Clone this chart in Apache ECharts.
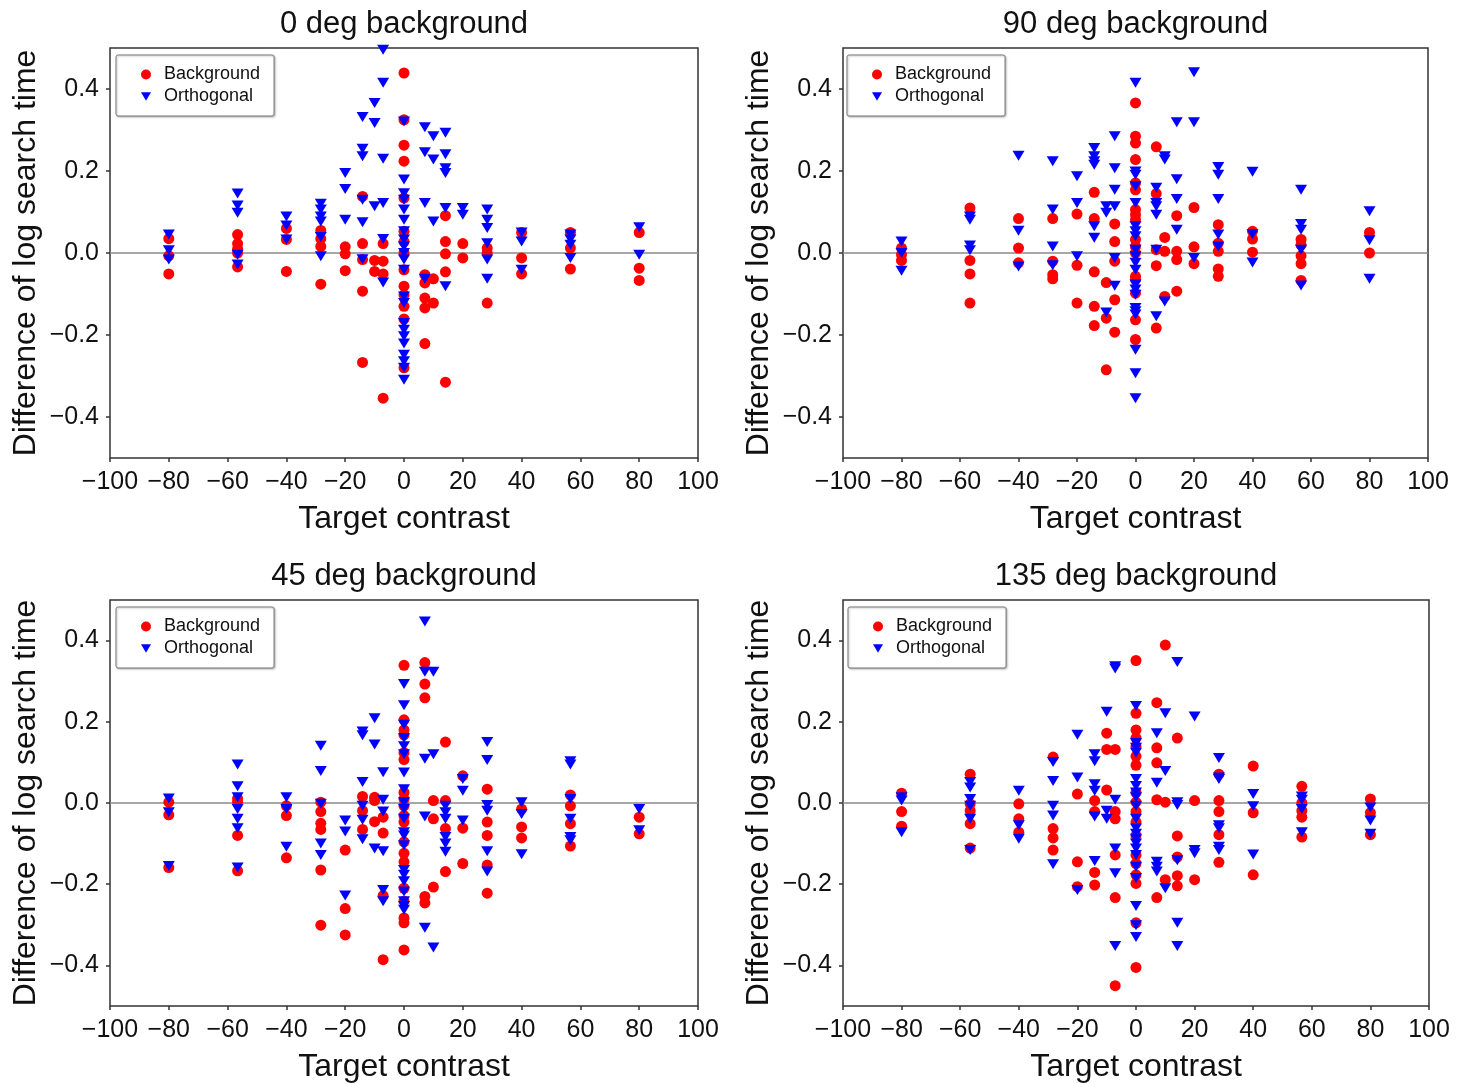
<!DOCTYPE html>
<html>
<head>
<meta charset="utf-8">
<script src="https://cdn.jsdelivr.net/npm/echarts@6/dist/echarts.min.js"></script>
<style>
html,body{margin:0;padding:0;background:#fff;}
#chart{width:1468px;height:1084px;}
</style>
</head>
<body>
<div id="chart"></div>
<script>
// Target contrast levels (x positions of the columns)
const contrasts = [-80, -56.6, -40, -28.3, -20, -14.1, -10, -7.1, 0, 7.1, 10, 14.1, 20, 28.3, 40, 56.6, 80];
const panelTitles = ['0 deg background', '90 deg background', '45 deg background', '135 deg background'];
const seriesNames = ['Background', 'Orthogonal'];
const yTickValues = [-0.4, -0.2, 0, 0.2, 0.4];

// Values per contrast column (same order as contrasts)
const bg0 = [
  [0.035, -0.007, -0.051],
  [0.045, 0.023, 0.01, 0.0, -0.034],
  [0.06, 0.033, -0.045],
  [0.055, 0.035, 0.016, -0.076],
  [0.015, -0.002, -0.043],
  [0.138, 0.023, -0.016, -0.093, -0.267],
  [-0.018, -0.045],
  [0.023, -0.02, -0.051, -0.354],
  [0.439, 0.325, 0.263, 0.224, 0.134, 0.053, 0.028, 0, -0.041, -0.081, -0.102, -0.13, -0.161, -0.28],
  [-0.053, -0.073, -0.11, -0.134, -0.221],
  [-0.063, -0.122],
  [0.091, 0.028, -0.002, -0.046, -0.315],
  [0.023, -0.012],
  [0.012, 0, -0.122],
  [0.05, -0.012, -0.051],
  [0.05, 0.012, -0.039],
  [0.05, -0.037, -0.067]
];
const or0 = [
  [0.045, 0.007, -0.016],
  [0.145, 0.116, 0.098, -0.004, -0.028],
  [0.089, 0.067, 0.033],
  [0.12, 0.106, 0.089, 0.077, 0.039, -0.008],
  [0.195, 0.156, 0.081],
  [0.332, 0.254, 0.236, 0.13, 0.075, -0.015],
  [0.366, 0.317, 0.114],
  [0.496, 0.415, 0.23, 0.122, 0.034, -0.072],
  [0.321, 0.179, 0.146, 0.13, 0.106, 0.081, 0.053, 0.033, 0.016, 0, -0.016, -0.041, -0.106, -0.122, -0.171, -0.187, -0.203, -0.221, -0.248, -0.264, -0.28, -0.309],
  [0.307, 0.246, 0.122, -0.063],
  [0.285, 0.228, 0.077],
  [0.293, 0.241, 0.207, 0.195, 0.11, -0.081],
  [0.11, 0.093],
  [0.106, 0.081, 0.061, 0.024, -0.016, -0.063],
  [0.05, 0.028, -0.041],
  [0.045, 0.033, 0.02, -0.012],
  [0.063, -0.004]
];
const bg90 = [
  [0.012, -0.004, -0.018],
  [0.11, -0.018, -0.051, -0.122],
  [0.084, 0.012, -0.024],
  [0.084, -0.02, -0.053, -0.063],
  [0.095, -0.03, -0.122],
  [0.148, 0.084, -0.046, -0.13, -0.177],
  [-0.072, -0.159, -0.285],
  [0.071, 0.028, -0.02, -0.114, -0.193],
  [0.366, 0.285, 0.268, 0.228, 0.171, 0.154, 0.106, 0.093, 0.081, 0.033, 0.016, 0, -0.057, -0.065, -0.098, -0.163, -0.211],
  [0.259, 0.145, 0.008, -0.031, -0.183],
  [0.038, 0.004, -0.106],
  [0.091, 0.004, -0.016, -0.093],
  [0.111, 0.015, -0.026],
  [0.069, 0.024, 0.004, -0.039, -0.057],
  [0.053, 0.034, 0.002],
  [0.033, 0.02, -0.007, -0.026, -0.067],
  [0.05, 0]
];
const or90 = [
  [0.028, 0, -0.043],
  [0.089, 0.081, 0.018, 0.007],
  [0.237, 0.054, -0.033],
  [0.224, 0.106, 0.016, -0.03],
  [0.187, 0.122, -0.008],
  [0.256, 0.236, 0.224, 0.215, 0.065, 0.037],
  [0.114, 0.098, -0.145],
  [0.285, 0.207, 0.154, 0.114, -0.012, -0.08],
  [0.415, 0.199, 0.191, 0.163, 0.122, 0.065, 0.053, 0.041, 0.008, -0.008, -0.024, -0.041, -0.077, -0.089, -0.102, -0.134, -0.142, -0.15, -0.236, -0.293, -0.354],
  [0.159, 0.122, 0.114, 0.093, 0.008, -0.154],
  [0.236, 0.228, -0.118],
  [0.319, 0.18, 0.132, 0.057],
  [0.441, 0.319, -0.012],
  [0.21, 0.191, 0.132, 0.045, 0.016],
  [0.198, 0.046, -0.023],
  [0.154, 0.071, 0.057, 0.008, -0.079],
  [0.102, 0.031, -0.063]
];
const bg45 = [
  [0.002, -0.029, -0.159],
  [0.011, 0.002, -0.08, -0.167],
  [-0.007, -0.031, -0.135],
  [0.002, -0.021, -0.05, -0.065, -0.165, -0.301],
  [-0.116, -0.26, -0.325],
  [0.016, -0.019, -0.065],
  [0.014, 0.006, -0.046],
  [-0.035, -0.074, -0.228, -0.386],
  [0.339, 0.205, 0.18, 0.168, 0.124, 0.107, 0.026, 0.01, -0.007, -0.031, -0.047, -0.096, -0.124, -0.145, -0.21, -0.242, -0.283, -0.295, -0.362],
  [0.346, 0.293, 0.259, -0.23, -0.246],
  [0.006, -0.039, -0.207],
  [0.15, 0.006, -0.063, -0.169],
  [0.067, -0.062, -0.149],
  [0.034, -0.047, -0.08, -0.153, -0.222],
  [-0.015, -0.059, -0.086],
  [0.02, -0.007, -0.051, -0.106],
  [-0.035, -0.076]
];
const or45 = [
  [0.011, -0.023, -0.155],
  [0.095, 0.041, 0.014, -0.015, -0.039, -0.062, -0.159],
  [0.014, -0.015, -0.108],
  [0.141, 0.079, -0.002, -0.1, -0.128],
  [-0.043, -0.07, -0.228],
  [0.176, 0.167, 0.052, -0.007, -0.041, -0.089],
  [0.209, 0.144, -0.112],
  [0.076, 0.008, -0.021, -0.119, -0.214, -0.242],
  [0.293, 0.241, 0.193, 0.16, 0.14, 0.12, 0.075, 0.034, 0.002, -0.015, -0.039, -0.072, -0.08, -0.104, -0.165, -0.177, -0.193, -0.218, -0.242, -0.254, -0.263],
  [0.447, 0.323, 0.109, -0.033, -0.307],
  [0.323, 0.12, -0.356],
  [-0.007, -0.023, -0.039, -0.084, -0.1, -0.12],
  [0.059, 0.03, -0.043],
  [0.15, 0.106, -0.005, -0.019, -0.119, -0.169],
  [0.002, -0.027, -0.126],
  [0.103, 0.095, 0.01, -0.039, -0.084, -0.092],
  [-0.015, -0.067]
];
const bg135 = [
  [0.024, -0.021, -0.057],
  [0.071, -0.002, -0.019, -0.051, -0.111],
  [-0.002, -0.039, -0.072],
  [0.113, -0.063, -0.086, -0.116],
  [0.022, -0.145, -0.206],
  [0.006, -0.021, -0.171, -0.202],
  [0.172, 0.132, 0.032],
  [0.132, -0.021, -0.039, -0.128, -0.233, -0.45],
  [0.351, 0.221, 0.18, 0.16, 0.14, 0.115, 0.093, 0.026, 0.002, -0.021, -0.047, -0.08, -0.128, -0.149, -0.177, -0.198, -0.295, -0.405],
  [0.247, 0.136, 0.099, 0.008, -0.233],
  [0.389, 0.002, -0.189],
  [0.16, -0.081, -0.133, -0.179, -0.204],
  [0.006, -0.189],
  [0.071, 0.006, -0.021, -0.078, -0.146],
  [0.091, -0.024, -0.177],
  [0.041, 0, -0.019, -0.035, -0.084],
  [0.01, -0.024, -0.078]
];
const or135 = [
  [0.014, 0.006, -0.072],
  [0.052, 0.038, 0.01, -0.007, -0.039, -0.116],
  [0.03, -0.055, -0.088],
  [0.101, 0.054, -0.007, -0.031, -0.151],
  [0.168, 0.063, -0.214],
  [0.12, 0.103, 0.046, 0.03, -0.033, -0.143],
  [0.225, -0.019, -0.039],
  [0.337, 0.331, 0.008, -0.112, -0.173, -0.352],
  [0.239, 0.148, 0.136, 0.124, 0.059, 0.042, 0.026, 0.014, -0.007, -0.039, -0.063, -0.076, -0.088, -0.1, -0.112, -0.128, -0.157, -0.185, -0.254, -0.301, -0.33],
  [0.172, 0.05, -0.145, -0.157, -0.169],
  [0.221, 0.079, -0.21],
  [0.347, 0.002, -0.005, -0.141, -0.295, -0.352],
  [0.213, -0.116, -0.124],
  [0.111, 0.063, 0.059, -0.055, -0.062, -0.108, -0.116],
  [0.022, -0.008, -0.127],
  [0.016, 0.008, -0.015, -0.072],
  [-0.011, -0.043, -0.076]
];

const panelData = [[bg0, or0], [bg90, or90], [bg45, or45], [bg135, or135]];

function toPoints(cols) {
  const pts = [];
  cols.forEach((vals, i) => vals.forEach(v => pts.push([contrasts[i], v])));
  return pts;
}

const FONT = 'Liberation Sans, Arial, Helvetica, sans-serif';
const TRI = 'path://M0,0 L12,0 L6,10 Z';
const minus = s => s.replace('-', '\u2212');

const grids = [
  {left: 110, top: 48, width: 588, height: 410},
  {left: 843, top: 48, width: 585, height: 410},
  {left: 110, top: 600, width: 588, height: 411},
  {left: 843, top: 600, width: 586, height: 411}
];
const legendPos = [
  {left: 116, top: 55}, {left: 847, top: 55}, {left: 116, top: 607}, {left: 848, top: 607}
];

const option = {
  backgroundColor: '#fff',
  animation: false,
  textStyle: {fontFamily: FONT},
  title: grids.map((g, i) => ({
    text: panelTitles[i],
    left: g.left + g.width / 2,
    top: g.top - 39,
    textAlign: 'center',
    padding: 0,
    textStyle: {fontFamily: FONT, fontSize: 31, fontWeight: 'normal', color: '#111', lineHeight: 31}
  })),
  legend: grids.map((g, i) => ({
    left: legendPos[i].left,
    top: legendPos[i].top,
    orient: 'vertical',
    selectedMode: false,
    data: [{name: seriesNames[0], icon: 'circle'}, {name: seriesNames[1], icon: TRI}],
    itemWidth: 10,
    itemHeight: 10,
    itemGap: 3,
    padding: [10, 14, 10, 25],
    borderColor: '#777',
    borderWidth: 1,
    borderRadius: 2,
    shadowColor: 'rgba(0,0,0,0.25)',
    shadowBlur: 2,
    shadowOffsetX: 1,
    shadowOffsetY: 1,
    backgroundColor: '#fff',
    textStyle: {fontFamily: FONT, fontSize: 18, color: '#111', lineHeight: 19, padding: [0, 0, 0, 8]}
  })),
  grid: grids.map(g => Object.assign({show: true, borderColor: '#333', borderWidth: 1.5, backgroundColor: 'transparent'}, g)),
  xAxis: grids.map((g, i) => ({
    type: 'value', gridIndex: i, min: -100, max: 100, interval: 20,
    name: 'Target contrast', nameLocation: 'middle', nameGap: 45,
    nameTextStyle: {fontFamily: FONT, fontSize: 32, color: '#111'},
    axisLine: {show: false, onZero: false},
    axisTick: {show: true, inside: false, length: 4, lineStyle: {color: '#333', width: 1.5}},
    axisLabel: {fontFamily: FONT, fontSize: 25, color: '#111', margin: 12, formatter: v => minus(String(v))},
    splitLine: {show: false}
  })),
  yAxis: grids.map((g, i) => ({
    type: 'value', gridIndex: i, min: -0.5, max: 0.5, interval: 0.1,
    name: 'Difference of log search time', nameLocation: 'middle', nameGap: 68,
    nameTextStyle: {fontFamily: FONT, fontSize: 32, color: '#111'},
    axisLine: {show: false, onZero: false},
    axisTick: {show: true, inside: false, length: 4, customValues: yTickValues, lineStyle: {color: '#333', width: 1.5}},
    axisLabel: {fontFamily: FONT, fontSize: 25, color: '#111', margin: 11, customValues: yTickValues,
      formatter: v => minus((Math.round(v * 10) / 10).toFixed(1)).replace('\u22120.0', '0.0')},
    splitLine: {show: false}
  })),
  series: []
};

panelData.forEach((pair, i) => {
  option.series.push({
    name: seriesNames[0], type: 'scatter', xAxisIndex: i, yAxisIndex: i,
    symbol: 'circle', symbolSize: 11,
    itemStyle: {color: '#ff0000', opacity: 1},
    data: toPoints(pair[0]),
    z: 2,
    markLine: {
      silent: true, symbol: 'none', label: {show: false},
      lineStyle: {color: '#8a8a8a', width: 1.5, type: 'solid'},
      data: [{yAxis: 0}], z: 1
    }
  });
  option.series.push({
    name: seriesNames[1], type: 'scatter', xAxisIndex: i, yAxisIndex: i,
    symbol: TRI, symbolSize: [12, 10],
    itemStyle: {color: '#0000ff', opacity: 1},
    data: toPoints(pair[1]),
    z: 3
  });
});

const chart = echarts.init(document.getElementById('chart'), null, {renderer: 'canvas'});
chart.setOption(option);
</script>
</body>
</html>
